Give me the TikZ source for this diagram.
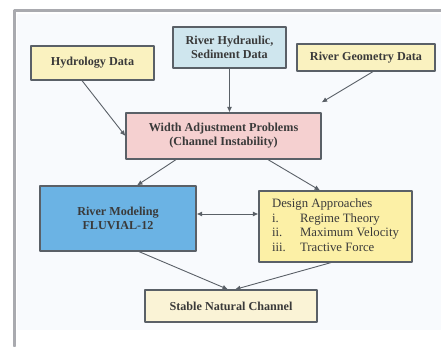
\documentclass[tikz,border=0pt]{standalone}
\usepackage{fontspec}
\setmainfont{Liberation Serif}
\usetikzlibrary{arrows.meta}
\definecolor{frameg}{HTML}{A9AAAF}
\definecolor{panel}{HTML}{F8FAFD}
\definecolor{edgeg}{HTML}{5A6067}
\definecolor{txtg}{HTML}{3A3A3A}
\definecolor{ylw}{HTML}{FAF2C0}
\definecolor{ylwdeep}{HTML}{FCF0A6}
\definecolor{ylwpale}{HTML}{FAF3D6}
\definecolor{bluepale}{HTML}{CFE6EE}
\definecolor{bluedeep}{HTML}{6BB3E4}
\definecolor{pinkbox}{HTML}{F5D0D0}
\newcommand{\boxsize}{\fontsize{12.2}{14}\selectfont}
\tikzset{
  box/.style={draw=edgeg, line width=1.2pt, inner sep=2pt, align=center, text=txtg, font=\boxsize\bfseries},
  link/.style={draw=edgeg, line width=0.9pt, -{Latex[length=5.5pt,width=5pt]}},
}
\begin{document}
\begin{tikzpicture}[x=1bp, y=-1bp, line join=round, line cap=round]
\useasboundingbox (0,0) rectangle (441,346);
\fill[panel] (17,14) rectangle (441,330);
\draw[frameg, line width=3bp] (14.5,346) -- (14.5,10) -- (441,10); % outer frame
% input boxes
\node[box, fill=ylw, minimum width=123bp, minimum height=34bp] (hyd) at (92.5,63) {Hydrology Data};
\node[box, fill=bluepale, minimum width=113bp, minimum height=41bp] (hydr) at (229.5,47.5) {River Hydraulic,\\Sediment Data};
\node[box, fill=ylw, minimum width=138bp, minimum height=27bp] (geo) at (366,57.5) {River Geometry Data};
\node[box, fill=pinkbox, minimum width=195bp, minimum height=46bp] (wap) at (223.5,136) {Width Adjustment Problems\\(Channel Instability)};
\node[box, fill=bluedeep, minimum width=156bp, minimum height=65bp] (model) at (118,218.5) {River Modeling\\FLUVIAL-12};
\node[box, fill=ylwdeep, minimum width=153bp, minimum height=71bp, font=\fontsize{12.8}{14.5}\selectfont] (design) at (335.5,226.5)
  {\raisebox{-3bp}{\begin{tabular}{@{}l@{}l@{}}
   \multicolumn{2}{@{}l@{}}{Design Approaches}\\
   \makebox[28bp][l]{i.} & Regime Theory\\
   \makebox[28bp][l]{ii.} & Maximum Velocity\\
   \makebox[28bp][l]{iii.} & Tractive Force
   \end{tabular}}};
\node[box, fill=ylwpale, minimum width=172bp, minimum height=32bp] (stable) at (231,306) {Stable Natural Channel};
% connectors
\draw[link] ([xshift=-10.5bp]hyd.south) -- (wap.west);
\draw[link] (hydr.south) -- (wap.north -| hydr.south);
\draw[link] ([xshift=7bp]geo.south) -- ([yshift=10bp]wap.north east);
\draw[link] ([xshift=-47.5bp]wap.south) -- ([xshift=19bp]model.north);
\draw[link] ([xshift=44.5bp]wap.south) -- ([xshift=-15.5bp]design.north);
\draw[link, {Latex[length=5.5pt,width=5pt]}-{Latex[length=5.5pt,width=5pt]}] ([yshift=4.5bp]model.east) -- ([yshift=4.5bp]model.east -| design.west);
\draw[link] ([xshift=21bp]model.south) -- ([xshift=-3bp]stable.north);
\draw[link] ([xshift=-4.5bp]design.south) -- ([xshift=4bp]stable.north);
\end{tikzpicture}
\end{document}
